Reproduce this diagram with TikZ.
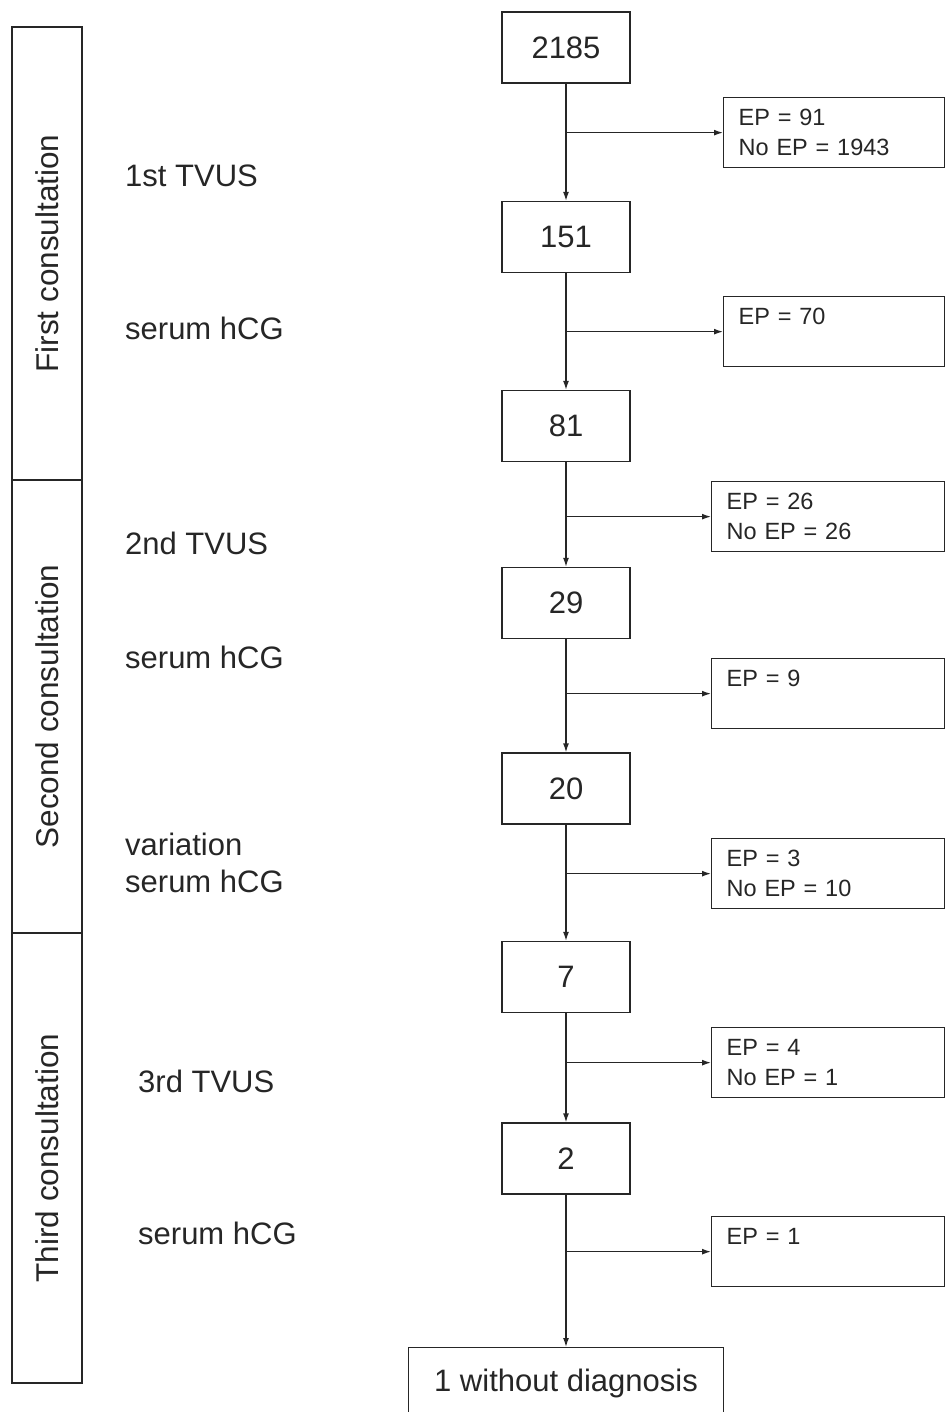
\documentclass[tikz,border=0pt]{standalone}
\usepackage{fontspec}
\setmainfont{Liberation Sans}
\usetikzlibrary{arrows.meta,positioning}
\begin{document}
\begin{tikzpicture}[x=1pt,y=-1pt,
  ink/.style={draw=black!85},
  mainbox/.style={ink, line width=1.3pt, minimum width=128pt, minimum height=71pt, inner sep=0pt, font=\fontsize{31}{36}\selectfont, text=black!85},
  ebox/.style={ink, line width=1.3pt, anchor=north west, minimum width=221pt, minimum height=70pt, text width=191pt, inner xsep=15pt, inner ysep=0pt, align=left, font=\fontsize{23.5}{30}\selectfont, text=black!85},
  phase/.style={ink, line width=1.3pt, rotate=90, minimum height=70pt, inner sep=0pt, font=\fontsize{31.5}{36}\selectfont, text=black!85},
  lab/.style={anchor=west, inner sep=0pt, align=left, font=\fontsize{31}{37}\selectfont, text=black!85},
  arr/.style={draw=black!85, line width=1.3pt, -{Latex[length=9pt,width=6pt]}}]
\useasboundingbox (0,0) rectangle (945,1412);
% left phase column
\node[phase, minimum width=453pt] (p1) at (47,253.5) {First consultation};
\node[phase, minimum width=453pt] (p2) at (47,706.5) {Second consultation};
\node[phase, minimum width=450pt] (p3) at (47,1158) {Third consultation};
% left labels
\node[lab] (l1) at (125,176) {1st TVUS};
\node[lab] (l2) at (125,328) {serum hCG};
\node[lab] (l3) at (125,543) {2nd TVUS};
\node[lab] (l4) at (125,657) {serum hCG};
\node[lab] (l5) at (125,863) {variation\\serum hCG};
\node[lab] (l6) at (138,1081) {3rd TVUS};
\node[lab] (l7) at (138,1233) {serum hCG};
% main boxes
\node[mainbox] (m1) at (566,47.5) {2185};
\node[mainbox] (m2) at (566,237) {151};
\node[mainbox] (m3) at (566,426) {81};
\node[mainbox] (m4) at (566,603) {29};
\node[mainbox] (m5) at (566,788.5) {20};
\node[mainbox] (m6) at (566,977) {7};
\node[mainbox] (m7) at (566,1158.5) {2};
\node[mainbox, minimum width=315pt, anchor=north] (m8) at (566,1347) {1 without diagnosis};
% exit boxes
\node[ebox] (e1) at (723,97) {EP = 91\\No EP = 1943};
\node[ebox] (e2) at (723,296) {EP = 70\\~};
\node[ebox, minimum width=233pt, text width=203pt] (e3) at (711,481) {EP = 26\\No EP = 26};
\node[ebox, minimum width=233pt, text width=203pt] (e4) at (711,658) {EP = 9\\~};
\node[ebox, minimum width=233pt, text width=203pt] (e5) at (711,838) {EP = 3\\No EP = 10};
\node[ebox, minimum width=233pt, text width=203pt] (e6) at (711,1027) {EP = 4\\No EP = 1};
\node[ebox, minimum width=233pt, text width=203pt] (e7) at (711,1216) {EP = 1\\~};
% vertical flow
\draw[arr] (m1.south) -- (m2.north);
\draw[arr] (m2.south) -- (m3.north);
\draw[arr] (m3.south) -- (m4.north);
\draw[arr] (m4.south) -- (m5.north);
\draw[arr] (m5.south) -- (m6.north);
\draw[arr] (m6.south) -- (m7.north);
\draw[arr] (m7.south) -- (m8.north);
% branches
\draw[arr] (m1.south |- e1.west) -- (e1.west);
\draw[arr] (m2.south |- e2.west) -- (e2.west);
\draw[arr] (m3.south |- e3.west) -- (e3.west);
\draw[arr] (m4.south |- e4.west) -- (e4.west);
\draw[arr] (m5.south |- e5.west) -- (e5.west);
\draw[arr] (m6.south |- e6.west) -- (e6.west);
\draw[arr] (m7.south |- e7.west) -- (e7.west);
\end{tikzpicture}
\end{document}
